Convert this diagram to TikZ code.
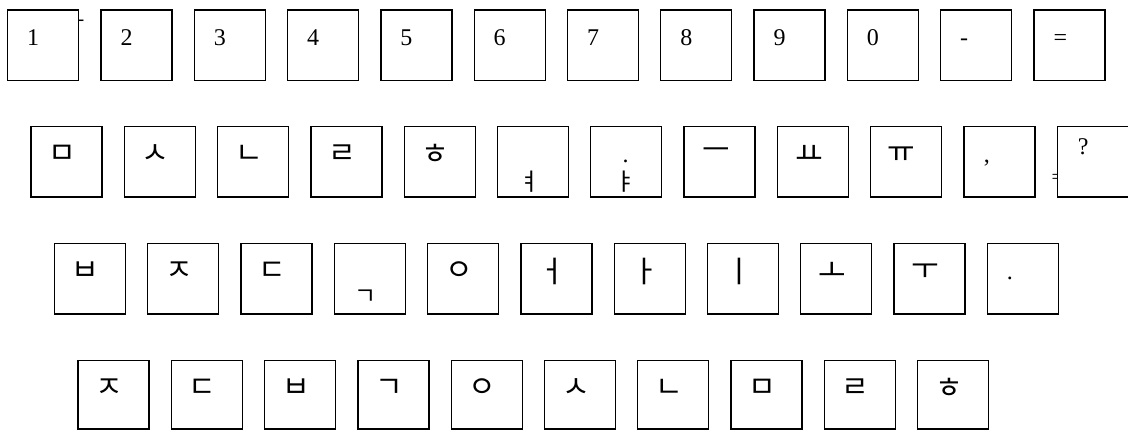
\documentclass[tikz,border=0pt]{standalone}
\usepackage{fontspec}
\setmainfont{Liberation Serif}
\newfontfamily\kr{Noto Sans CJK KR}
\begin{document}
\begin{tikzpicture}[x=1pt,y=-1pt,
  keybox/.style={draw,fill=white,line width=1.3pt,minimum width=71pt,minimum height=70.5pt,anchor=north west,inner sep=0pt},
  lab/.style={anchor=base west,inner sep=0pt,font=\fontsize{24}{24}\selectfont},
  klab/.style={anchor=center,inner sep=0pt,font=\kr\fontsize{30}{30}\selectfont},
  klow/.style={anchor=center,inner sep=0pt,font=\kr\fontsize{24}{24}\selectfont},
  stray/.style={anchor=base west,inner sep=0pt,font=\fontsize{20}{20}\selectfont}]
\useasboundingbox (0,0) rectangle (1128,430);
% stray marks (partly hidden behind boxes)
\node[stray] (hy) at (77.3,25.3) {-};
\node[stray] (eq) at (1051.3,184) {=};
% row 1
\foreach \t [count=\i from 0] in {1,2,3,4,5,6,7,8,9,0,-,=} {
  \node[keybox] (a\i) at ({7+93.3*\i},9.3) {};
  \node[lab] (la\i) at ({27+93.3*\i},45.8) {\t};
}
% row 2
\foreach \i in {0,...,11} {
  \node[keybox] (b\i) at ({30.3+93.3*\i},126) {};
}
\foreach \t [count=\i from 0] in {ㅁ,ㅅ,ㄴ,ㄹ,ㅎ} {
  \node[klab] (lb\i) at ({62.3+93.3*\i},154.5) {\t};
}
\node[klow] (lb5) at (529.5,182) {ㅕ};
\node[lab] (lb6a) at (622.5,163) {.};
\node[klow] (lb6) at (625.5,181.5) {ㅑ};
\node[klab] (lb7) at (715.8,154.5) {ㅡ};
\node[klab] (lb8) at (809.1,154.5) {ㅛ};
\node[klab] (lb9) at (901.4,154.5) {ㅠ};
\node[lab] (lb10) at (983.7,163) {,};
\node[lab] (lb11) at (1077.7,155) {?};
% row 3
\foreach \i in {0,...,10} {
  \node[keybox] (c\i) at ({53.7+93.3*\i},243) {};
}
\foreach \t [count=\i from 0] in {ㅂ,ㅈ,ㄷ} {
  \node[klab] (lc\i) at ({85.7+93.3*\i},271.5) {\t};
}
\node[klow] (lc3) at (366,297) {ㄱ};
\foreach \t [count=\i from 4] in {ㅇ,ㅓ,ㅏ,ㅣ,ㅗ,ㅜ} {
  \node[klab] (lc\i) at ({85.7+93.3*\i},271.5) {\t};
}
\node[lab] (lc10) at (1006.7,280) {.};
% row 4
\foreach \t [count=\i from 0] in {ㅈ,ㄷ,ㅂ,ㄱ,ㅇ,ㅅ,ㄴ,ㅁ,ㄹ,ㅎ} {
  \node[keybox,minimum height=68.5pt] (d\i) at ({77.3+93.3*\i},360) {};
  \node[klab] (ld\i) at ({109.3+93.3*\i},388.5) {\t};
}
\end{tikzpicture}
\end{document}
